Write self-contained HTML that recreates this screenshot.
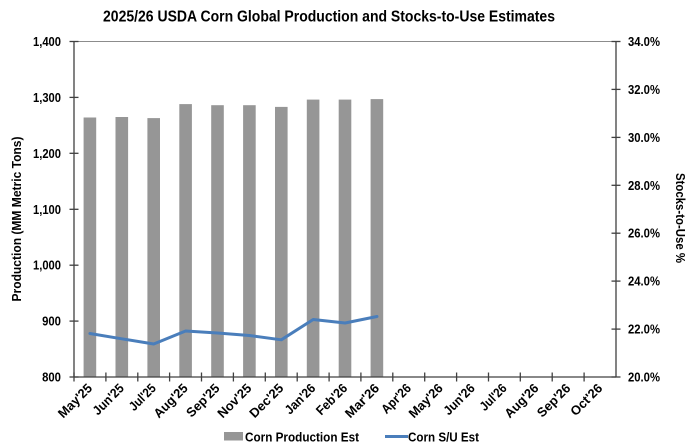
<!DOCTYPE html>
<html>
<head>
<meta charset="utf-8">
<style>
  html, body { margin:0; padding:0; background:#ffffff; }
  svg { display:block; }
  text { font-family: "Liberation Sans", Arial, sans-serif; font-weight: bold; fill:#000; }
</style>
</head>
<body>
<svg width="689" height="447" viewBox="0 0 689 447" xmlns="http://www.w3.org/2000/svg">
  <rect x="0" y="0" width="689" height="447" fill="#ffffff"/>

  <!-- Title -->
  <text x="329" y="21.5" font-size="16" text-anchor="middle" textLength="452" lengthAdjust="spacingAndGlyphs">2025/26 USDA Corn Global Production and Stocks-to-Use Estimates</text>

  <!-- top border of plot -->
  <line x1="74" y1="41.5" x2="616" y2="41.5" stroke="#8c8c8c" stroke-width="1"/>

  <!-- Bars -->
  <g fill="#969696">
    <rect x="83.6" y="117.5" width="12.6" height="259.5"/>
    <rect x="115.5" y="117.0" width="12.6" height="260.0"/>
    <rect x="147.4" y="118.1" width="12.6" height="258.9"/>
    <rect x="179.3" y="104.1" width="12.6" height="272.9"/>
    <rect x="211.2" y="105.2" width="12.6" height="271.8"/>
    <rect x="243.1" y="105.2" width="12.6" height="271.8"/>
    <rect x="275.0" y="106.9" width="12.6" height="270.1"/>
    <rect x="306.8" y="99.6" width="12.6" height="277.4"/>
    <rect x="338.7" y="99.6" width="12.6" height="277.4"/>
    <rect x="370.6" y="99.1" width="12.6" height="277.9"/>
  </g>

  <!-- S/U line -->
  <polyline fill="none" stroke="#4a7ebb" stroke-width="3" stroke-linejoin="round" stroke-linecap="round"
    points="89.9,333.5 121.8,338.8 153.7,344 185.6,331 217.5,333 249.4,335.5 281.3,339.8 313.2,319.5 345.1,323 377,316.5"/>

  <!-- Axes -->
  <g stroke="#404040" stroke-width="1.3">
    <line x1="74" y1="41.5" x2="74" y2="377"/>
    <line x1="616" y1="41.5" x2="616" y2="377"/>
    <line x1="74" y1="377" x2="616" y2="377"/>
    <line x1="69.5" y1="41.5" x2="78.5" y2="41.5"/>
    <line x1="69.5" y1="97.4" x2="78.5" y2="97.4"/>
    <line x1="69.5" y1="153.3" x2="78.5" y2="153.3"/>
    <line x1="69.5" y1="209.3" x2="78.5" y2="209.3"/>
    <line x1="69.5" y1="265.2" x2="78.5" y2="265.2"/>
    <line x1="69.5" y1="321.1" x2="78.5" y2="321.1"/>
    <line x1="69.5" y1="377" x2="78.5" y2="377"/>
    <line x1="611.5" y1="41.5" x2="620.5" y2="41.5"/>
    <line x1="611.5" y1="89.4" x2="620.5" y2="89.4"/>
    <line x1="611.5" y1="137.4" x2="620.5" y2="137.4"/>
    <line x1="611.5" y1="185.3" x2="620.5" y2="185.3"/>
    <line x1="611.5" y1="233.2" x2="620.5" y2="233.2"/>
    <line x1="611.5" y1="281.1" x2="620.5" y2="281.1"/>
    <line x1="611.5" y1="329.1" x2="620.5" y2="329.1"/>
    <line x1="611.5" y1="377" x2="620.5" y2="377"/>
    <line x1="105.9" y1="372.5" x2="105.9" y2="381.5"/>
    <line x1="137.8" y1="372.5" x2="137.8" y2="381.5"/>
    <line x1="169.6" y1="372.5" x2="169.6" y2="381.5"/>
    <line x1="201.5" y1="372.5" x2="201.5" y2="381.5"/>
    <line x1="233.4" y1="372.5" x2="233.4" y2="381.5"/>
    <line x1="265.3" y1="372.5" x2="265.3" y2="381.5"/>
    <line x1="297.2" y1="372.5" x2="297.2" y2="381.5"/>
    <line x1="329.1" y1="372.5" x2="329.1" y2="381.5"/>
    <line x1="360.9" y1="372.5" x2="360.9" y2="381.5"/>
    <line x1="392.8" y1="372.5" x2="392.8" y2="381.5"/>
    <line x1="424.7" y1="372.5" x2="424.7" y2="381.5"/>
    <line x1="456.6" y1="372.5" x2="456.6" y2="381.5"/>
    <line x1="488.5" y1="372.5" x2="488.5" y2="381.5"/>
    <line x1="520.3" y1="372.5" x2="520.3" y2="381.5"/>
    <line x1="552.2" y1="372.5" x2="552.2" y2="381.5"/>
    <line x1="584.1" y1="372.5" x2="584.1" y2="381.5"/>
    <line x1="74" y1="372.5" x2="74" y2="381.5"/>
  </g>

  <!-- Left tick labels -->
  <g font-size="13" text-anchor="end">
    <text x="61" y="46" textLength="28" lengthAdjust="spacingAndGlyphs">1,400</text>
    <text x="61" y="101.9" textLength="28" lengthAdjust="spacingAndGlyphs">1,300</text>
    <text x="61" y="157.8" textLength="28" lengthAdjust="spacingAndGlyphs">1,200</text>
    <text x="61" y="213.8" textLength="28" lengthAdjust="spacingAndGlyphs">1,100</text>
    <text x="61" y="269.7" textLength="28" lengthAdjust="spacingAndGlyphs">1,000</text>
    <text x="61" y="325.6" textLength="18.9" lengthAdjust="spacingAndGlyphs">900</text>
    <text x="61" y="381.5" textLength="18.9" lengthAdjust="spacingAndGlyphs">800</text>
  </g>

  <!-- Right tick labels -->
  <g font-size="13">
    <text x="628" y="46" textLength="32" lengthAdjust="spacingAndGlyphs">34.0%</text>
    <text x="628" y="93.9" textLength="32" lengthAdjust="spacingAndGlyphs">32.0%</text>
    <text x="628" y="141.9" textLength="32" lengthAdjust="spacingAndGlyphs">30.0%</text>
    <text x="628" y="189.8" textLength="32" lengthAdjust="spacingAndGlyphs">28.0%</text>
    <text x="628" y="237.7" textLength="32" lengthAdjust="spacingAndGlyphs">26.0%</text>
    <text x="628" y="285.6" textLength="32" lengthAdjust="spacingAndGlyphs">24.0%</text>
    <text x="628" y="333.6" textLength="32" lengthAdjust="spacingAndGlyphs">22.0%</text>
    <text x="628" y="381.5" textLength="32" lengthAdjust="spacingAndGlyphs">20.0%</text>
  </g>

  <!-- Axis titles -->
  <text transform="translate(21,219) rotate(-90)" font-size="13" text-anchor="middle" textLength="165" lengthAdjust="spacingAndGlyphs">Production (MM Metric Tons)</text>
  <text transform="translate(676,218) rotate(90)" font-size="13" text-anchor="middle" textLength="90" lengthAdjust="spacingAndGlyphs">Stocks-to-Use %</text>

  <!-- X labels -->
  <g font-size="13" text-anchor="end">
    <text transform="translate(93,389) rotate(-45)" textLength="42" lengthAdjust="spacingAndGlyphs">May'25</text>
    <text transform="translate(124.8,389) rotate(-45)" textLength="38" lengthAdjust="spacingAndGlyphs">Jun'25</text>
    <text transform="translate(156.7,389) rotate(-45)" textLength="32" lengthAdjust="spacingAndGlyphs">Jul'25</text>
    <text transform="translate(188.6,389) rotate(-45)" textLength="42" lengthAdjust="spacingAndGlyphs">Aug'25</text>
    <text transform="translate(220.5,389) rotate(-45)" textLength="41" lengthAdjust="spacingAndGlyphs">Sep'25</text>
    <text transform="translate(252.4,389) rotate(-45)" textLength="42" lengthAdjust="spacingAndGlyphs">Nov'25</text>
    <text transform="translate(284.3,389) rotate(-45)" textLength="42" lengthAdjust="spacingAndGlyphs">Dec'25</text>
    <text transform="translate(316.2,389) rotate(-45)" textLength="37" lengthAdjust="spacingAndGlyphs">Jan'26</text>
    <text transform="translate(348.1,389) rotate(-45)" textLength="38" lengthAdjust="spacingAndGlyphs">Feb'26</text>
    <text transform="translate(380,389) rotate(-45)" textLength="42" lengthAdjust="spacingAndGlyphs">Mar'26</text>
    <text transform="translate(411.9,389) rotate(-45)" textLength="36" lengthAdjust="spacingAndGlyphs">Apr'26</text>
    <text transform="translate(443.7,389) rotate(-45)" textLength="42" lengthAdjust="spacingAndGlyphs">May'26</text>
    <text transform="translate(475.6,389) rotate(-45)" textLength="38" lengthAdjust="spacingAndGlyphs">Jun'26</text>
    <text transform="translate(507.5,389) rotate(-45)" textLength="32" lengthAdjust="spacingAndGlyphs">Jul'26</text>
    <text transform="translate(539.4,389) rotate(-45)" textLength="42" lengthAdjust="spacingAndGlyphs">Aug'26</text>
    <text transform="translate(571.3,389) rotate(-45)" textLength="41" lengthAdjust="spacingAndGlyphs">Sep'26</text>
    <text transform="translate(603.2,389) rotate(-45)" textLength="39" lengthAdjust="spacingAndGlyphs">Oct'26</text>
  </g>

  <!-- Legend -->
  <rect x="224" y="432" width="19" height="8.5" fill="#969696"/>
  <text x="245" y="441.5" font-size="13" textLength="114" lengthAdjust="spacingAndGlyphs">Corn Production Est</text>
  <line x1="385" y1="436.5" x2="408" y2="436.5" stroke="#4a7ebb" stroke-width="3"/>
  <text x="408" y="441.5" font-size="13" textLength="71" lengthAdjust="spacingAndGlyphs">Corn S/U Est</text>
</svg>
</body>
</html>
